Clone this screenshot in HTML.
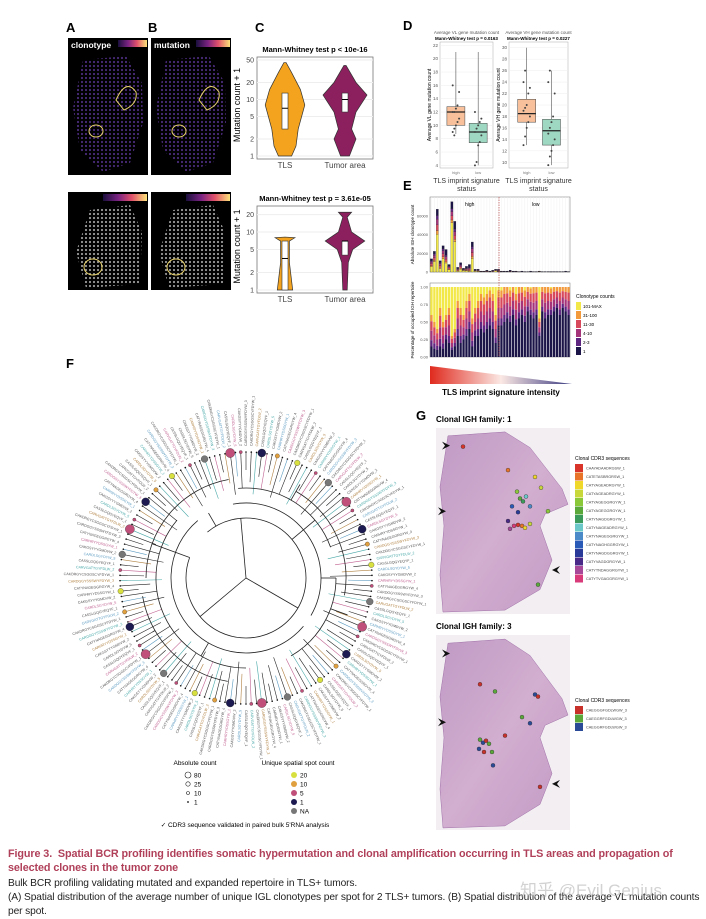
<!DOCTYPE html>
<html><head><meta charset="utf-8">
<style>
body{margin:0;background:#fff;width:706px;height:915px;overflow:hidden;font-family:"Liberation Sans",sans-serif}
svg{position:absolute;left:0;top:0}
.cap{position:absolute;left:8px;width:695px;font-size:10.2px;line-height:14px;color:#222;letter-spacing:-0.1px}
</style></head><body>
<svg id="fig" width="706" height="915" xmlns="http://www.w3.org/2000/svg" font-family="Liberation Sans, sans-serif">
<defs>
<pattern id="spots" width="4" height="4" patternUnits="userSpaceOnUse"><circle cx="2" cy="2" r="1.1" fill="#4a2a7a"/></pattern>
<pattern id="gspots" width="4" height="4" patternUnits="userSpaceOnUse"><circle cx="2" cy="2" r="1.1" fill="#9a9a9a"/></pattern>
<linearGradient id="magma" x1="0" x2="1"><stop offset="0" stop-color="#1a0f3d"/><stop offset=".35" stop-color="#7b2382"/><stop offset=".65" stop-color="#e0506a"/><stop offset="1" stop-color="#fbe27a"/></linearGradient>
<linearGradient id="tlsgrad" x1="0" x2="1"><stop offset="0" stop-color="#e02a1e"/><stop offset=".5" stop-color="#fbe8e4"/><stop offset="1" stop-color="#3a3a80"/></linearGradient>
<linearGradient id="tissue" x1="0" y1="0" x2="1" y2="1"><stop offset="0" stop-color="#c09ac4"/><stop offset=".5" stop-color="#d2aed0"/><stop offset="1" stop-color="#c39ac4"/></linearGradient>
</defs>
<g id="panelA"></g>
<g id="panelC"></g>
<g id="panelD"></g>
<g id="panelE"></g>
<g id="panelF"></g>
<g id="panelG"></g>
</svg>
<div class="cap" style="top:847px;color:#b0405a;font-weight:bold;font-size:10.8px">Figure 3.&nbsp; Spatial BCR profiling identifies somatic hypermutation and clonal amplification occurring in TLS areas and propagation of selected clones in the tumor zone</div>
<div class="cap" style="top:877px">Bulk BCR profiling validating mutated and expanded repertoire in TLS+ tumors.</div>
<div class="cap" style="top:891px">(A) Spatial distribution of the average number of unique IGL clonotypes per spot for 2 TLS+ tumors. (B) Spatial distribution of the average VL mutation counts per spot.</div>
<div style="position:absolute;left:520px;top:876px;font-size:17px;color:rgba(180,180,180,.6)">知乎 @Evil Genius</div>
<script>
const NS="http://www.w3.org/2000/svg";
function mk(p,t,a,txt){const e=document.createElementNS(NS,t);for(const k in a)e.setAttribute(k,a[k]);if(txt!==undefined)e.textContent=txt;p.appendChild(e);return e;}
const fig=document.getElementById('fig');
const letters=[["A",66,32],["B",148,32],["C",255,32],["D",403,30],["E",403,190],["F",66,368],["G",416,420]];
letters.forEach(l=>{const t=mk(fig,'text',{x:l[1],y:l[2],'font-size':13,'font-weight':'bold'},l[0]);});

// ---- Panel A/B
const A=document.getElementById('panelA');
const abPanels=[[68,38,80,137,'clonotype',0],[151,38,80,137,'mutation',0],[68,192,80,98,'',1],[151,192,80,98,'',1]];
abPanels.forEach((p,i)=>{
 const [x,y,w,h,lab,g]=p;
 const r=mk(A,'rect',{x,y,width:w,height:h,fill:'#000'});
 if(!g){mk(A,'path',{d:`M${x+15} ${y+22} L${x+58} ${y+18} L${x+74} ${y+45} L${x+75} ${y+85} L${x+62} ${y+125} L${x+35} ${y+134} L${x+12} ${y+112} L${x+5} ${y+70} Z`,fill:'url(#spots)'});
  mk(A,'ellipse',{cx:x+28,cy:y+93,rx:7,ry:6,fill:'none',stroke:'#e9d36a','stroke-width':1});
  mk(A,'path',{d:`M${x+48} ${y+62} q10 -22 20 -8 q2 12 -12 18 z`,fill:'none',stroke:'#e9d36a','stroke-width':1});
  if(lab){const t=mk(A,'text',{x:x+3,y:y+10,'font-size':8.5,'font-weight':'bold',fill:'#fff'},lab);}
  mk(A,'rect',{x:x+(i?45:50),y:y+2,width:(i?34:29),height:7,fill:'url(#magma)'});
 } else {
  mk(A,'path',{d:`M${x+22} ${y+18} L${x+62} ${y+13} L${x+74} ${y+40} L${x+72} ${y+92} L${x+18} ${y+96} L${x+8} ${y+60} Z`,fill:'url(#gspots)'});
  mk(A,'ellipse',{cx:x+25,cy:y+75,rx:9,ry:8,fill:'none',stroke:'#e9d36a','stroke-width':1});
  mk(A,'rect',{x:x+35,y:y+2,width:44,height:7,fill:'url(#magma)'});
 }
});

// ---- Panel C violins
const C=document.getElementById('panelC');
const cTitles=["Mann-Whitney test  p < 10e-16","Mann-Whitney test  p =  3.61e-05"];
const cGroups=["TLS","Tumor area"];
const cTicks=[[1,2,5,10,20,50],[1,2,5,10,20]];
const cMax=[50,25];
const cMedians=[[7,10],[3.5,7]];
const cQ=[[[3,13],[6,13]],[[1,7],[4,7]]];
const cWidth=[[[1,.3],[1.5,.5],[3,.6],[8,.9],[15,.7],[30,.3],[45,.05]],[[1,.2],[2,.5],[3,.3],[6,.5],[12,1],[20,.5],[40,.05]]];
const cWidth2=[[[1,.35],[3,.2],[7,.2],[8,.45],[8.2,0]],[[1,.1],[3,.15],[5,.35],[7,.9],[10,.3],[18,.1],[22,.3]]];
const cCol=["#f3a31e","#8c1f5e"];
[[0,57,153],[1,206,287]].forEach(([k,top,bot])=>{
 const x0=257,x1=373,yl=v=>bot-(Math.log(v)-Math.log(1))/(Math.log(cMax[k])-Math.log(1))*(bot-top)+3;
 mk(C,'rect',{x:x0,y:top,width:x1-x0,height:bot-top+6,fill:'#fff',stroke:'#777','stroke-width':.8});
 const tt=mk(C,'text',{x:315,y:top-5,'font-size':7.5,'font-weight':'bold','text-anchor':'middle'},cTitles[k]);
 cTicks[k].forEach(v=>{mk(C,'line',{x1:x0,x2:x1,y1:yl(v),y2:yl(v),stroke:'#eee'});const t=mk(C,'text',{x:x0-3,y:yl(v)+2.5,'font-size':7,'text-anchor':'end',fill:'#444'},v);});
 const yt=mk(C,'text',{x:0,y:0,'font-size':9,'text-anchor':'middle',transform:`translate(${x0-17},${(top+bot)/2}) rotate(-90)`},"Mutation count + 1");
 const prof=k?cWidth2:cWidth;
 [0,1].forEach(g=>{const cx=g?345:285,W=22;let L='',R='';prof[g].forEach((p,i)=>{L+=(i?'L':'M')+(cx-p[1]*W)+' '+yl(p[0])+' ';});prof[g].slice().reverse().forEach(p=>{R+='L'+(cx+p[1]*W)+' '+yl(p[0])+' ';});
  const v=mk(C,'path',{d:L+R+'Z',fill:cCol[g],stroke:'#333','stroke-width':.7});
  const q=cQ[k][g];mk(C,'rect',{x:cx-3,y:yl(q[1]),width:6,height:yl(q[0])-yl(q[1]),fill:'#fff',stroke:'#333','stroke-width':.6});
  mk(C,'line',{x1:cx-3,x2:cx+3,y1:yl(cMedians[k][g]),y2:yl(cMedians[k][g]),stroke:'#000','stroke-width':1});
  const gl=mk(C,'text',{x:cx,y:bot+15,'font-size':8,'text-anchor':'middle',fill:'#444'},cGroups[g]);});
});

// ---- Panel D boxplots
const D=document.getElementById('panelD');
const dTitles=[["Average VL gene mutation count","Mann-Whitney test  p = 0.0163"],["Average VH gene mutation count","Mann-Whitney test  p = 0.0227"]];
const dYtitle=["Average VL gene mutation count","Average VH gene mutation count"];
const dTicks=[[4,6,8,10,12,14,16,18,20,22],[10,12,14,16,18,20,22,24,26,28,30]];
const dRange=[[3.6,22.5],[9,31]];
const dBoxes=[[[8.7,10,12,12.8,21],[4,7.4,9,10.3,21]],[[13,17,18.5,21,30],[9.5,13,15.5,17.5,26]]];
const dPts=[[[9,9.5,10,10.5,11,12,12,12.5,13,15,16,8.5],[4,4.5,7,7.5,8.5,9,9.5,10,10.5,11,12]],[[13,14.5,16,17,18,19,19.5,20,22,23,24,26],[9.5,11,12,13,14,15,16,17,18,22,24,26]]];
[[0,440,493],[1,509,568]].forEach(([k,x0,x1])=>{
 const top=42,bot=168,yv=v=>bot-(v-dRange[k][0])/(dRange[k][1]-dRange[k][0])*(bot-top);
 mk(D,'rect',{x:x0,y:top,width:x1-x0,height:bot-top,fill:'#fff',stroke:'#aaa','stroke-width':.5});
 mk(D,'text',{x:(x0+x1)/2,y:top-8,'font-size':4.5,'text-anchor':'middle',fill:'#555'},dTitles[k][0]);
 mk(D,'text',{x:(x0+x1)/2,y:top-2,'font-size':4.5,'font-weight':'bold','text-anchor':'middle'},dTitles[k][1]);
 dTicks[k].forEach(v=>{mk(D,'line',{x1:x0,x2:x1,y1:yv(v),y2:yv(v),stroke:'#eee','stroke-width':.5});mk(D,'text',{x:x0-2,y:yv(v)+1.5,'font-size':4.5,'text-anchor':'end',fill:'#555'},v);});
 mk(D,'text',{x:0,y:0,'font-size':5,'text-anchor':'middle',transform:`translate(${x0-9},${(top+bot)/2}) rotate(-90)`},dYtitle[k]);
 [0,1].forEach(g=>{const cx=x0+(x1-x0)*(g?0.72:0.3),b=dBoxes[k][g],w=9;
  mk(D,'line',{x1:cx,x2:cx,y1:yv(b[0]),y2:yv(b[4]),stroke:'#333','stroke-width':.5});
  const r=mk(D,'rect',{x:cx-w,y:yv(b[3]),width:2*w,height:yv(b[1])-yv(b[3]),fill:g?'#9ed8c2':'#f8c19b',stroke:'#444','stroke-width':.5});
  mk(D,'line',{x1:cx-w,x2:cx+w,y1:yv(b[2]),y2:yv(b[2]),stroke:'#222','stroke-width':1.2});
  dPts[k][g].forEach((p,i)=>mk(D,'circle',{cx:cx+((i%5)-2)*1.6,cy:yv(p),r:1,fill:'#444'}));
  mk(D,'text',{x:cx,y:bot+6,'font-size':4,'text-anchor':'middle',fill:'#777'},g?'low':'high');
 });
 mk(D,'text',{x:(x0+x1)/2,y:bot+15,'font-size':7,'text-anchor':'middle',fill:'#333'},"TLS imprint signature");
 mk(D,'text',{x:(x0+x1)/2,y:bot+23,'font-size':7,'text-anchor':'middle',fill:'#333'},"status");
});

// ---- Panel E
const E=document.getElementById('panelE');
const eTotals=[14,22,67,12,28,24,8,75,54,5,10,4,6,8,32,3,3,1,1,2,1,2,3,3,1,1,1,2,1,1,0.5,1,0.5,0.5,1,0.5,0.5,1,0.5,0.5,0.5,0.5,0.5,0.5,0.5,0.5,1,0.5];
const eYellow=[.4,.5,.6,.3,.5,.4,.3,.7,.6,.2,.3,.4,.2,.1,.45,.3,.2,.1,.15,.1,.05,.1,.4,.05,.05,0,0,.05,0,.1,0,0,.05,0,.02,0,0,.45,0,0,0,.02,0,0,0,0,0,0];
const eNavy=[.15,.12,.1,.15,.12,.25,.2,.1,.15,.3,.2,.25,.3,.4,.15,.3,.3,.4,.35,.4,.45,.4,.2,.45,.45,.5,.55,.5,.6,.45,.55,.6,.5,.65,.6,.55,.6,.3,.65,.55,.6,.6,.65,.7,.6,.7,.65,.6];
const eTicks=[0,20000,40000,60000];
const eLeg=["101-MAX","31-100","11-30","4-10","2-3","1"];
const eCols=["#f3e84a","#f29a3c","#d8495c","#a5337a","#5e2580","#1c1548"];
const ex0=430,ex1=570,n=eTotals.length,bw=(ex1-ex0)/n,eTop=197,eBot=272,pTop=283,pBot=357,tMax=80;
mk(E,'rect',{x:ex0,y:eTop,width:ex1-ex0,height:eBot-eTop,fill:'#fff',stroke:'#888','stroke-width':.6});
mk(E,'rect',{x:ex0,y:pTop,width:ex1-ex0,height:pBot-pTop,fill:'#fff',stroke:'#888','stroke-width':.6});
for(let i=0;i<n;i++)mk(E,'line',{x1:ex0+(i+.5)*bw,x2:ex0+(i+.5)*bw,y1:eTop,y2:eBot,stroke:'#eee','stroke-width':.4});
eTicks.forEach(v=>{const y=eBot-v/1000/tMax*(eBot-eTop);mk(E,'text',{x:ex0-2,y:y+1.5,'font-size':4,'text-anchor':'end',fill:'#555'},v);});
["0.00","0.25","0.50","0.75","1.00"].forEach((t,i)=>mk(E,'text',{x:ex0-2,y:pBot-i*0.25*(pBot-pTop-4)+1.5,'font-size':4,'text-anchor':'end',fill:'#555'},t));
mk(E,'text',{x:0,y:0,'font-size':4.5,'text-anchor':'middle',transform:`translate(${ex0-16},${(eTop+eBot)/2}) rotate(-90)`},"Absolute IGH clonotype count");
mk(E,'text',{x:0,y:0,'font-size':4.5,'text-anchor':'middle',transform:`translate(${ex0-16},${(pTop+pBot)/2}) rotate(-90)`},"Percentage of occupied IGH repertoire");
mk(E,'text',{x:465,y:206,'font-size':5},"high");mk(E,'text',{x:532,y:206,'font-size':5},"low");
eTotals.forEach((tot,i)=>{
 const mid=(1-eYellow[i]-eNavy[i]);const fr=[eYellow[i],mid*.2,mid*.3,mid*.3,mid*.2,eNavy[i]];
 let accA=0,accP=0;const x=ex0+i*bw+.3;
 fr.forEach((f,j)=>{const hA=f*tot/tMax*(eBot-eTop),hP=f*(pBot-pTop-4);
  const r=mk(E,'rect',{x,y:eBot-accA-hA,width:bw-.6,height:hA,fill:eCols[j],stroke:'#222','stroke-width':.2});
  const p=mk(E,'rect',{x,y:pTop+4+accP,width:bw-.6,height:hP,fill:eCols[j]});
  accA+=hA;accP+=hP;});
});
mk(E,'line',{x1:499,x2:499,y1:eTop,y2:pBot,stroke:'#b03030','stroke-width':.6,'stroke-dasharray':'1.5,1'});
mk(E,'text',{x:576,y:298,'font-size':5},"Clonotype counts");
eLeg.forEach((l,i)=>{mk(E,'rect',{x:576,y:302+i*9,width:5,height:8,fill:eCols[i]});mk(E,'text',{x:583,y:308+i*9,'font-size':4.5},l);});
mk(E,'polygon',{points:"430,366 430,384 572,384",fill:'url(#tlsgrad)'});
mk(E,'text',{x:501,y:395,'font-size':8,'font-weight':'bold','text-anchor':'middle'},"TLS imprint signature intensity");

// ---- Panel F tree
const F=document.getElementById('panelF');
const cx=246,cy=578,Rin=126;
const leafSeqs=["CARDGGYSSSWYFDYW_3","CAKDRGYCSGGSCYFDYW_1","CARVGATTGYFDLW_2","CASSLGQGYEQYF_1","CARDLSGYDYW_5","CAKGSYYYGMDVW_2","CARHRYYDSSGYW_1","CATYNAGEGGRGYW_4"];
const leafCols=["#555","#555","#4aa8a8","#555","#c06090","#555","#b08040","#555","#5a9ac0","#555"];
const nodeSizes=[0,0,0,5,0,0,2,0,0,0,3,0,0,0,1,0,0,4,0,0,0,0,6,0,1];
const nodeCols=["#1c1a50","#c0507a","#e0a040","#d8e040","#777"];
const N=150;
for(let i=0;i<N;i++){
 const a=(-90+i*360/N)*Math.PI/180,ca=Math.cos(a),sa=Math.sin(a);
 const inner=Rin-18-((i*7)%5)*6;
 mk(F,'line',{x1:cx+inner*ca,y1:cy+inner*sa,x2:cx+Rin*ca,y2:cy+Rin*sa,stroke:leafCols[i%10]==='#555'?'#222':leafCols[i%10],'stroke-width':.6});
 const deg=-90+i*360/N,flip=(deg>90&&deg<270);
 const tx=cx+(Rin+6)*ca,ty=cy+(Rin+6)*sa;
 const t=mk(F,'text',{x:tx,y:ty,'font-size':3.6,fill:leafCols[(i*3)%10],'text-anchor':flip?'end':'start',transform:`rotate(${flip?deg-180:deg},${tx},${ty})`,'dominant-baseline':'middle'},leafSeqs[i%8]);
 
 
 const s=nodeSizes[i%25];
 if(s){const c=mk(F,'circle',{cx:cx+Rin*ca,cy:cy+Rin*sa,r:1+s*.6,fill:nodeCols[s%5],stroke:'#222','stroke-width':.3});}
 else mk(F,'circle',{cx:cx+Rin*ca,cy:cy+Rin*sa,r:.8,fill:'#111'});
}
[[60,-130,200],[75,-100,30],[75,40,230],[90,-95,-20],[90,0,60],[90,90,220],[100,-60,10],[105,100,170],[100,180,260]].forEach(([r,s,e])=>{
 const a1=s*Math.PI/180,a2=e*Math.PI/180;mk(F,'path',{d:`M${cx+r*Math.cos(a1)} ${cy+r*Math.sin(a1)} A${r} ${r} 0 ${(e-s)>180?1:0} 1 ${cx+r*Math.cos(a2)} ${cy+r*Math.sin(a2)}`,fill:'none',stroke:'#222','stroke-width':.8});});
[[-95,0,60],[30,0,60],[140,0,60],[-120,60,75],[-40,60,90],[0,75,90],[120,75,90],[200,60,100],[-60,90,108],[20,90,108],[150,105,108]].forEach(([d,r1,r2])=>{const a=d*Math.PI/180;mk(F,'line',{x1:cx+r1*Math.cos(a),y1:cy+r1*Math.sin(a),x2:cx+r2*Math.cos(a),y2:cy+r2*Math.sin(a),stroke:'#222','stroke-width':.8});});
mk(F,'text',{x:195,y:765,'font-size':6.5,'text-anchor':'middle'},"Absolute count");
mk(F,'text',{x:298,y:765,'font-size':6.5,'text-anchor':'middle'},"Unique spatial spot count");
[["80",3],["25",2.2],["10",1.5],["1",.7]].forEach((l,i)=>{mk(F,'circle',{cx:188,cy:775+i*9,r:l[1],fill:'none',stroke:'#222','stroke-width':.6});mk(F,'text',{x:194,y:777.5+i*9,'font-size':6.5},l[0]);});
[["20","#d8e040"],["10","#e0a040"],["5","#c0507a"],["1","#1c1a50"],["NA","#777"]].forEach((l,i)=>{mk(F,'circle',{cx:294,cy:775+i*9,r:3,fill:l[1]});mk(F,'text',{x:300,y:777.5+i*9,'font-size':6.5},l[0]);});
mk(F,'text',{x:245,y:827,'font-size':6.5,'text-anchor':'middle'},"✓ CDR3 sequence validated in paired bulk 5'RNA analysis");

// ---- Panel G
const G=document.getElementById('panelG');
const g1Seq=["CAAYADAADRGSW_1","CATETASBRGRSW_1","CATYAGEADRGYW_1","CATYAGEADRGYW_1","CATYAGEGGRGYW_1","CATYAGEGGRGYW_1","CATYNAGDGRGYW_1","CATYNAGEADRGYW_1","CATYNAGEGGRGYW_1","CATYNAGHGGRGYW_1","CATYNAGDGGRGYW_1","CATYVAGDGRGYW_1","CATYTNDAGGRGYW_1","CATYTVGAGGRGYW_1"];
const g1Col=["#d8342a","#e8742a","#f0d82a","#c8d83a","#8ac83a","#5aa83a","#3a9a5a","#6ac8c8","#4a8ac8","#2a5ab8","#2a3a98","#4a2a88","#a84898","#d83a7a"];
const g3Seq=["CAEGGGFGDLWGW_3","CAEGGRFGDLWGW_3","CAEGGRFGDLWGW_3"];
const g3Col=["#c8302a","#5aa83a","#2a4a98"];
function tissue(y0,h,title,seqs,cols,legY,spots){
 mk(G,'text',{x:436,y:y0-6,'font-size':8,'font-weight':'bold'},title);
 mk(G,'rect',{x:436,y:y0,width:134,height:h,fill:'#f2eef2'});
 const s=h/190;
 mk(G,'path',{d:`M448 ${y0+8*s} L505 ${y0+4*s} L530 ${y0+20*s} L562 ${y0+62*s} L568 ${y0+78*s} L545 ${y0+88*s} L540 ${y0+100*s} L552 ${y0+135*s} L540 ${y0+165*s} L505 ${y0+186*s} L443 ${y0+188*s} L440 ${y0+150*s} L444 ${y0+100*s} L440 ${y0+60*s} Z`,fill:'url(#tissue)',stroke:'#a070a8','stroke-width':.5});
 mk(G,'text',{x:575,y:legY,'font-size':5},"Clonal CDR3 sequences");
 seqs.forEach((q,i)=>{const r=mk(G,'rect',{x:575,y:legY+4+i*8.5,width:8,height:8,fill:cols[i]});mk(G,'text',{x:586,y:legY+9.5+i*8.5,'font-size':3.8,fill:'#444'},q);});
 spots.forEach((p,i)=>mk(G,'circle',{cx:p[0],cy:y0+p[1]*s,r:2,fill:cols[i%cols.length],stroke:'#333','stroke-width':.4}));
 [[450,y0+18*s,1],[446,y0+85*s,1],[552,y0+145*s,-1]].forEach(([x,y,d])=>mk(G,'path',{d:`M${x} ${y} l${-8*d} -4 l${3*d} 4 l${-3*d} 4 z`,fill:'#111'}));
}
tissue(428,186,"Clonal IGH family: 1",g1Seq,g1Col,460,[[463,19],[508,43],[535,50],[541,61],[517,65],[520,72],[523,75],[526,70],[530,80],[512,80],[518,86],[508,95],[510,103],[514,100],[518,99],[522,100],[525,102],[530,98],[548,85],[538,160]]);
tissue(635,195,"Clonal IGH family: 3",g3Seq,g3Col,702,[[480,48],[495,55],[535,58],[538,60],[522,80],[530,86],[505,98],[480,102],[483,105],[486,103],[489,106],[479,111],[484,114],[492,114],[493,127],[540,148]]);
</script>
</body></html>
